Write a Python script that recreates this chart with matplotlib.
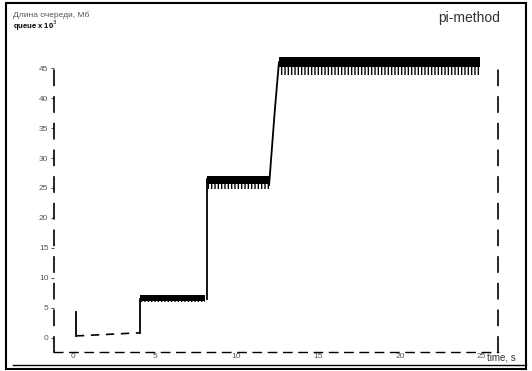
import matplotlib
matplotlib.use("Agg")
import matplotlib.pyplot as plt
from matplotlib.patches import Rectangle
from matplotlib.lines import Line2D

plt.rcParams['font.family'] = ['Liberation Sans', 'DejaVu Sans']
plt.rcParams['hatch.linewidth'] = 1.0

# queue length trace (time, s / queue x 10^3)
low_t = [0.18, 0.18, 0.45, 4.12]
low_q = [4.2, 0.3, 0.3, 0.8]

steps_t = [[4.12, 4.12], [8.2, 8.2], [12.0, 12.35, 12.6]]
steps_q = [[0.8, 6.5], [6.5, 26.5], [25.5, 38.0, 46.0]]

# oscillating plateaus: start, end, lowest, solid lower edge, highest
band_t0 = [4.12, 8.2, 12.6]
band_t1 = [8.1, 12.0, 24.9]
band_lo = [6.0, 24.8, 43.9]
band_core = [6.1, 25.6, 45.3]
band_hi = [7.1, 27.0, 46.9]

x_ticks = [0, 5, 10, 15, 20, 25]
y_ticks = [0, 5, 10, 15, 20, 25, 30, 35, 40, 45]

fig = plt.figure(figsize=(5.32, 3.71), dpi=100)
ax = fig.add_axes([0.1015, 0.0512, 0.8345, 0.805])

ax.plot(low_t[:2], low_q[:2], color='black', lw=1.3)
ax.plot(low_t[1:], low_q[1:], color='black', lw=1.2, ls=(0, (5, 4)))
for st, sq in zip(steps_t, steps_q):
    ax.plot(st, sq, color='black', lw=1.3)

for t0, t1, lo, core, hi in zip(band_t0, band_t1, band_lo, band_core, band_hi):
    ax.fill_between([t0, t1], [core, core], [hi, hi], color='black', lw=0)
    ax.fill_between([t0, t1], [lo, lo], [core, core], facecolor='none',
                    edgecolor='black', hatch='|||||', lw=0)

ax.set_xlim(-1.16, 26.0)
ax.set_ylim(-2.42, 47.5)
ax.set_xticks(x_ticks)
ax.set_yticks(y_ticks)
ax.tick_params(axis='both', labelsize=6, colors='#555555', length=2, width=0.8, pad=2)
ax.tick_params(axis='x', length=0, pad=1)

ax.spines['top'].set_visible(False)
for side in ['left', 'right']:
    ax.spines[side].set_linestyle((0, (9, 7)))
    ax.spines[side].set_linewidth(1.2)
    ax.spines[side].set_bounds(-2.42, 46.0)
ax.spines['bottom'].set_linestyle((0, (6, 5)))
ax.spines['bottom'].set_linewidth(1.0)

# outer frame
fig.add_artist(Rectangle((6 / 532, 1 - 369 / 371), 520 / 532, 366 / 371,
                         transform=fig.transFigure, fill=False, lw=1.5, color='black'))
fig.add_artist(Line2D([13 / 532, 526 / 532], [1 - 365 / 371, 1 - 365 / 371],
                      transform=fig.transFigure, lw=1.0, color='black'))

fig.text(13 / 532, 1 - 15 / 371, 'Длина очереди, Мб', fontsize=6, color='#555555',
         va='center', ha='left')
fig.text(13 / 532, 1 - 26 / 371, r'queue x 10$^3$', fontsize=5.5, fontweight='bold',
         va='center', ha='left')
fig.text(500 / 532, 1 - 18 / 371, 'pi-method', fontsize=10, color='#333333',
         va='center', ha='right')
fig.text(487 / 532, 1 - 357 / 371, 'time, s', fontsize=7, color='#333333',
         va='center', ha='left')

fig.savefig('out.png', dpi=100)
